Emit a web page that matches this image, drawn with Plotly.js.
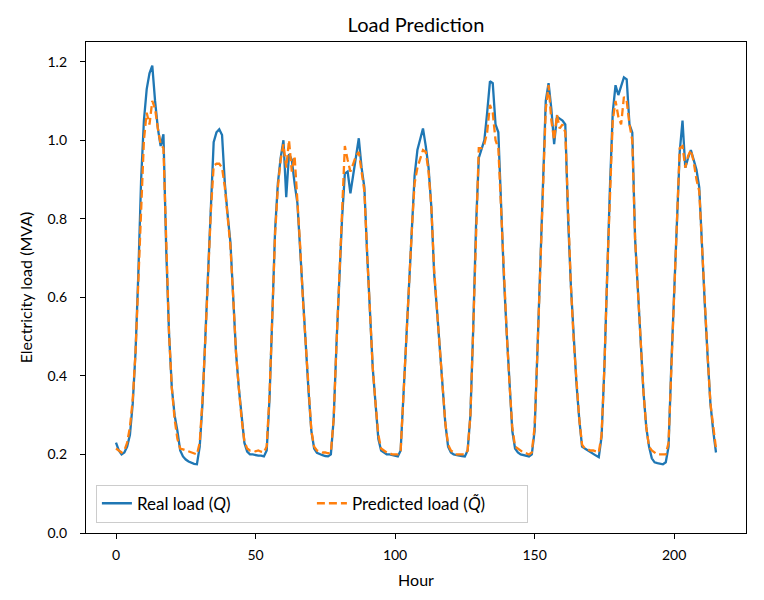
<!DOCTYPE html>
<html>
<head>
<meta charset="utf-8">
<script src="https://cdn.plot.ly/plotly-3.0.1.min.js"></script>
<style>html,body{margin:0;padding:0;background:#fff;}#chart{width:764px;height:600px;}</style>
</head>
<body>
<div id="chart"></div>
<script>
// Real load (Q), hourly, MVA
const realLoad = [
  0.23, 0.21, 0.20, 0.205, 0.22, 0.25, 0.33, 0.46, 0.66, 0.90, 1.05, 1.13, 1.17, 1.19, 1.10, 1.03, 0.985, 1.015, 0.72, 0.51, 0.37, 0.30, 0.26, 0.21,
  0.195, 0.187, 0.182, 0.178, 0.176, 0.175, 0.22, 0.33, 0.49, 0.66, 0.82, 0.995, 1.02, 1.028, 1.013, 0.89, 0.81, 0.74, 0.60, 0.46, 0.37, 0.29, 0.23, 0.207,
  0.20, 0.20, 0.198, 0.197, 0.197, 0.195, 0.21, 0.34, 0.55, 0.77, 0.89, 0.955, 1.00, 0.855, 0.965, 0.95, 0.89, 0.84, 0.72, 0.59, 0.47, 0.36, 0.26, 0.215,
  0.204, 0.20, 0.198, 0.196, 0.195, 0.20, 0.29, 0.48, 0.66, 0.80, 0.915, 0.92, 0.865, 0.91, 0.96, 1.005, 0.93, 0.88, 0.71, 0.56, 0.42, 0.33, 0.24, 0.21,
  0.205, 0.20, 0.20, 0.198, 0.196, 0.195, 0.21, 0.34, 0.49, 0.63, 0.77, 0.91, 0.975, 1.005, 1.03, 0.985, 0.93, 0.83, 0.66, 0.57, 0.48, 0.375, 0.28, 0.22,
  0.205, 0.20, 0.198, 0.197, 0.196, 0.195, 0.21, 0.30, 0.52, 0.78, 0.955, 0.98, 1.00, 1.07, 1.15, 1.145, 1.04, 1.02, 0.82, 0.65, 0.51, 0.38, 0.26, 0.215,
  0.205, 0.20, 0.198, 0.196, 0.195, 0.20, 0.26, 0.46, 0.68, 0.92, 1.10, 1.145, 1.08, 0.99, 1.06, 1.055, 1.05, 1.04, 0.80, 0.63, 0.49, 0.38, 0.29, 0.22,
  0.215, 0.21, 0.205, 0.20, 0.197, 0.193, 0.245, 0.42, 0.66, 0.88, 1.07, 1.14, 1.115, 1.14, 1.16, 1.155, 1.04, 1.02, 0.75, 0.62, 0.47, 0.36, 0.27, 0.22,
  0.19, 0.18, 0.178, 0.176, 0.175, 0.18, 0.22, 0.43, 0.62, 0.80, 0.97, 1.05, 0.93, 0.955, 0.975, 0.95, 0.925, 0.88, 0.72, 0.58, 0.45, 0.33, 0.26, 0.205
];
// Predicted load (Q~), hourly, MVA
const predictedLoad = [
  0.215, 0.21, 0.205, 0.21, 0.23, 0.27, 0.34, 0.46, 0.64, 0.86, 1.00, 1.07, 1.04, 1.10, 1.08, 1.03, 0.99, 0.98, 0.73, 0.51, 0.37, 0.29, 0.24, 0.215,
  0.213, 0.21, 0.207, 0.205, 0.203, 0.20, 0.23, 0.34, 0.49, 0.66, 0.82, 0.935, 0.94, 0.94, 0.93, 0.88, 0.80, 0.73, 0.60, 0.46, 0.37, 0.29, 0.235, 0.215,
  0.21, 0.21, 0.208, 0.21, 0.207, 0.205, 0.22, 0.35, 0.55, 0.76, 0.88, 0.95, 0.99, 0.93, 1.00, 0.92, 0.96, 0.85, 0.73, 0.59, 0.47, 0.36, 0.26, 0.22,
  0.21, 0.208, 0.205, 0.205, 0.203, 0.205, 0.29, 0.48, 0.66, 0.82, 0.985, 0.95, 0.92, 0.94, 0.96, 0.97, 0.92, 0.87, 0.71, 0.56, 0.42, 0.33, 0.25, 0.215,
  0.21, 0.205, 0.203, 0.20, 0.20, 0.20, 0.21, 0.34, 0.48, 0.63, 0.77, 0.89, 0.93, 0.95, 0.975, 0.97, 0.92, 0.83, 0.67, 0.57, 0.47, 0.37, 0.28, 0.225,
  0.21, 0.205, 0.20, 0.20, 0.20, 0.20, 0.21, 0.30, 0.52, 0.78, 0.98, 0.98, 0.99, 1.02, 1.09, 1.07, 1.00, 0.98, 0.82, 0.65, 0.51, 0.38, 0.27, 0.22,
  0.215, 0.21, 0.205, 0.203, 0.20, 0.205, 0.27, 0.46, 0.68, 0.91, 1.08, 1.14, 1.05, 1.00, 1.065, 1.03, 1.04, 1.02, 0.80, 0.63, 0.49, 0.38, 0.29, 0.225,
  0.215, 0.213, 0.21, 0.21, 0.207, 0.205, 0.25, 0.42, 0.66, 0.88, 1.05, 1.10, 1.06, 1.04, 1.11, 1.10, 1.04, 1.00, 0.75, 0.62, 0.47, 0.36, 0.27, 0.22,
  0.21, 0.205, 0.20, 0.20, 0.20, 0.20, 0.23, 0.43, 0.62, 0.80, 0.98, 0.985, 0.93, 0.96, 0.975, 0.945, 0.90, 0.87, 0.72, 0.58, 0.45, 0.33, 0.27, 0.215
];
const hours = realLoad.map((_, i) => i);
const xTicks = [0, 50, 100, 150, 200];
const yTicks = [0.0, 0.2, 0.4, 0.6, 0.8, 1.0, 1.2];

const FONT = 'Lato, "Open Sans", sans-serif';

const traces = [
  {x: hours, y: realLoad, type: 'scatter', mode: 'lines', name: 'Real load (<i>Q</i>)',
   line: {color: '#1f77b4', width: 2.3}},
  {x: hours, y: predictedLoad, type: 'scatter', mode: 'lines', name: 'Predicted load (<i>Q̃</i>)',
   line: {color: '#ff7f0e', width: 2.3, dash: '8px,4px'}}
];

const axisCommon = {
  showline: true, linecolor: '#000', linewidth: 1.2, mirror: true,
  showgrid: false, zeroline: false,
  ticks: 'outside', ticklen: 5, tickwidth: 1, tickcolor: '#000',
  ticklabelstandoff: 4,
  tickfont: {family: FONT, size: 14, color: '#000'}
};

const layout = {
  width: 764, height: 600,
  margin: {l: 86, r: 18, t: 42, b: 67},
  paper_bgcolor: '#fff', plot_bgcolor: '#fff',
  font: {family: FONT, color: '#000'},
  title: {text: 'Load Prediction', font: {family: FONT, size: 20, color: '#000'},
          x: 0.5 + (86 - 18) / 2 / 764, xanchor: 'center', y: 1 - 25 / 600, yanchor: 'middle'},
  xaxis: Object.assign({}, axisCommon, {
    range: [-10.75, 225.75], tickvals: xTicks, ticktext: xTicks.map(String),
    title: {text: 'Hour', font: {family: FONT, size: 16, color: '#000'}, standoff: 12}
  }),
  yaxis: Object.assign({}, axisCommon, {
    range: [0, 1.25], tickvals: yTicks, ticktext: yTicks.map(v => v.toFixed(1)),
    ticklabelstandoff: 10,
    title: {text: 'Electricity load (MVA)', font: {family: FONT, size: 16, color: '#000'}, standoff: 10}
  }),
  showlegend: true,
  legend: {
    orientation: 'h', x: 0.015, xanchor: 'left', y: 0.021, yanchor: 'bottom',
    bgcolor: 'rgba(255,255,255,0.85)', bordercolor: '#cccccc', borderwidth: 1,
    font: {family: FONT, size: 17, color: '#000'},
    entrywidth: 170, entrywidthmode: 'pixels'
  }
};

Plotly.newPlot('chart', traces, layout, {displayModeBar: false, staticPlot: true});
</script>
</body>
</html>
